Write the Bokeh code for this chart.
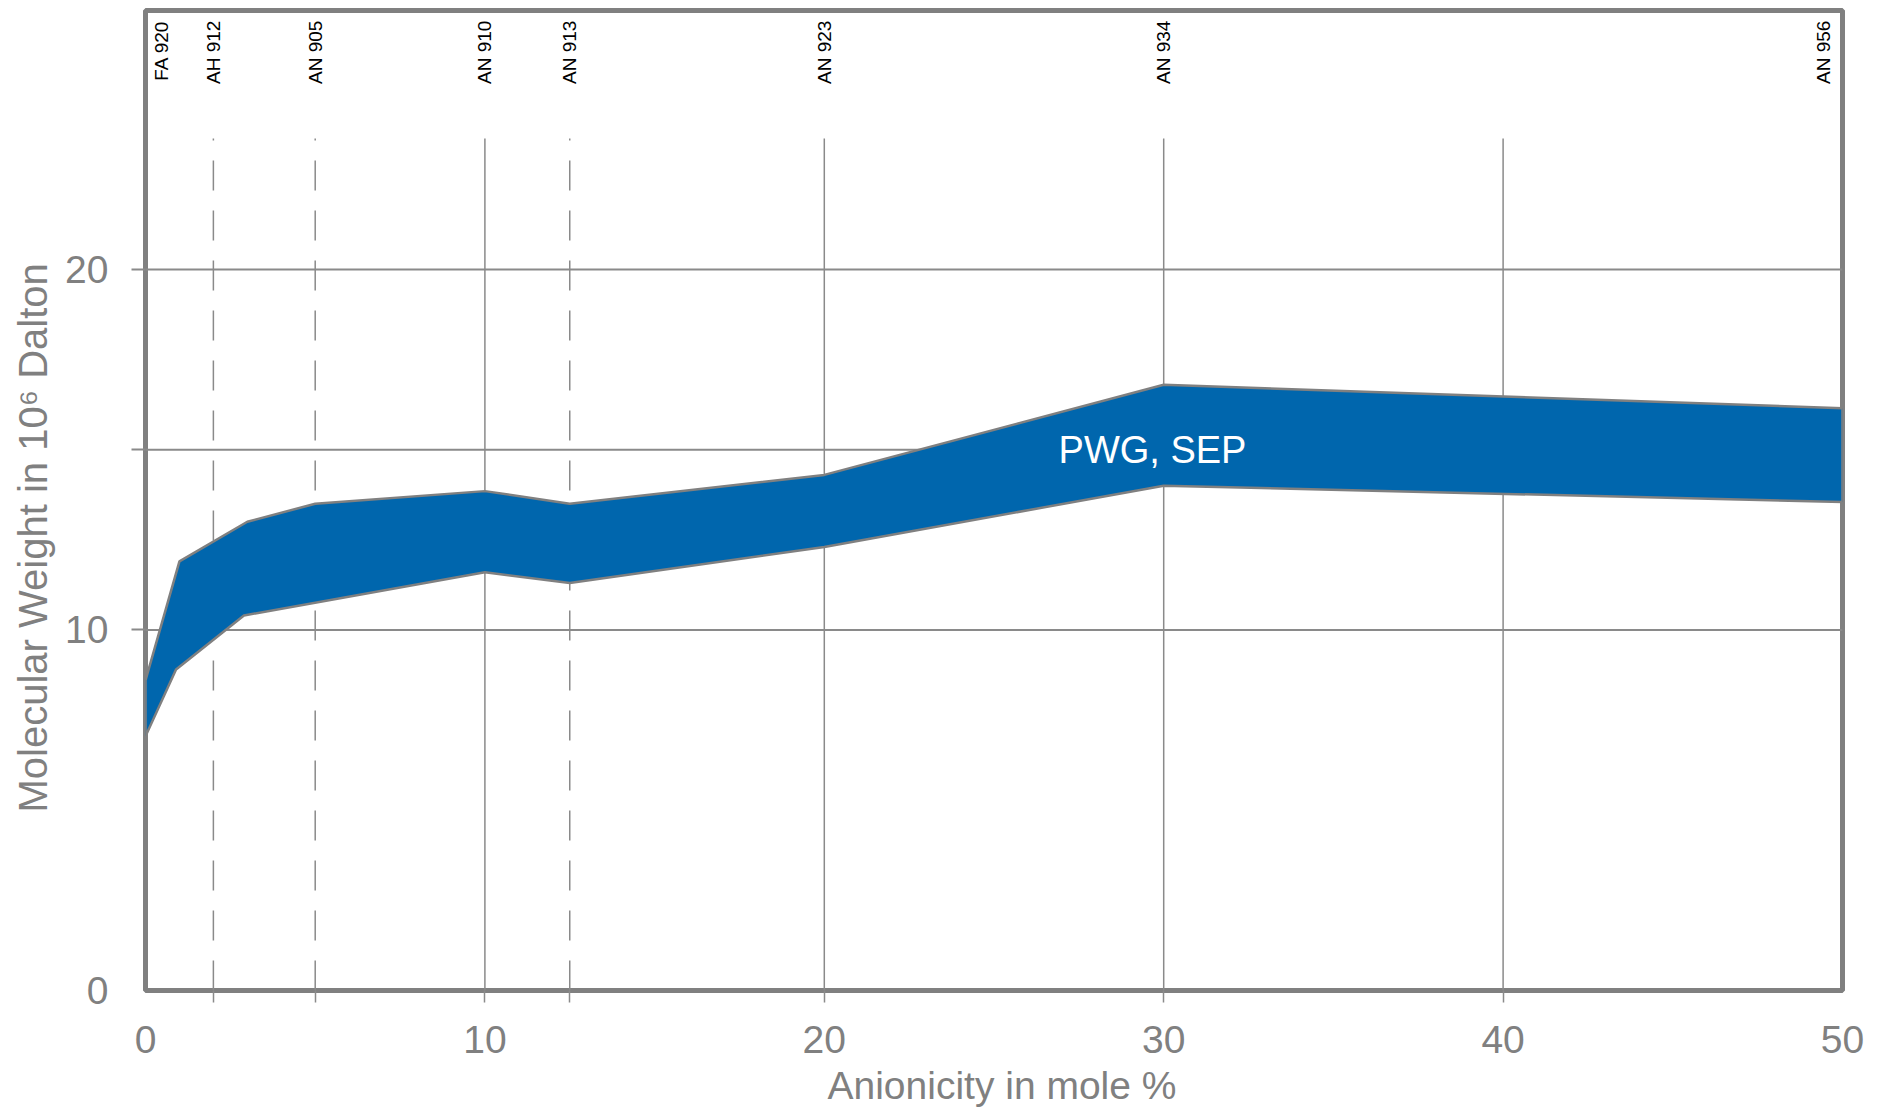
import numpy as np
from bokeh.plotting import figure
from bokeh.models import Range1d, FixedTicker, Title, ColumnDataSource
from bokeh.core.properties import value
from bokeh.embed import file_html
from bokeh.resources import INLINE

# ---- data ----
upper_x = [0, 1, 3, 5, 10, 12.5, 20, 30, 50]
upper_y = [8.6, 11.9, 13.0, 13.5, 13.85, 13.5, 14.3, 16.8, 16.15]
lower_x = [0, 0.9, 2.9, 10, 12.5, 20, 30, 50]
lower_y = [7.05, 8.9, 10.4, 11.6, 11.3, 12.3, 14.0, 13.55]

product_names = ["FA 920", "AH 912", "AN 905", "AN 910", "AN 913", "AN 923", "AN 934", "AN 956"]
product_label_x = [0.46, 2, 5, 10, 12.5, 20, 30, 49.45]

solid_lines_x = [10, 20, 30, 40]
dashed_lines_x = [2, 5, 12.5]
hgrid_y = [10, 15, 20]

x_ticks = [0, 10, 20, 30, 40, 50]
y_ticks = [0, 10, 20]

band_label = "PWG, SEP"
band_label_pos = (29.67, 15.0)

x_title = "Anionicity in mole %"
y_title = "Molecular Weight in 10\u2076 Dalton"

GRAY = "#808080"
FONT = "Liberation Sans"

p = figure(width=1881, height=1114, output_backend="svg", toolbar_location=None,
           x_range=Range1d(0, 50), y_range=Range1d(0, 27.18),
           min_border_left=145, min_border_right=39, min_border_top=10, min_border_bottom=124)
p.background_fill_color = "white"
p.border_fill_color = "white"
p.outline_line_color = GRAY
p.outline_line_width = 5
p.grid.visible = False

# axes
for ax in (p.xaxis[0], p.yaxis[0]):
    ax.axis_line_color = None
    ax.major_tick_line_color = None
    ax.major_tick_out = 0
    ax.major_tick_in = 0
    ax.minor_tick_in = 0
    ax.minor_tick_line_color = "#8a8a8a"
    ax.minor_tick_line_width = 1.5
    ax.major_label_text_font = FONT
    ax.major_label_text_font_size = "39px"
    ax.major_label_text_color = GRAY

p.xaxis[0].ticker = FixedTicker(ticks=x_ticks, minor_ticks=dashed_lines_x + solid_lines_x)
p.xaxis[0].minor_tick_out = 12
p.xaxis[0].major_label_standoff = 23
p.yaxis[0].ticker = FixedTicker(ticks=y_ticks, minor_ticks=hgrid_y)
p.yaxis[0].minor_tick_out = 14
p.yaxis[0].minor_tick_line_width = 2
p.yaxis[0].major_label_standoff = 23

# axis titles (as titles so they can be offset like the reference)
p.add_layout(Title(text=x_title, align="left", offset=682, standoff=13,
                   text_font=FONT, text_font_size="39px", text_font_style="normal",
                   text_color=GRAY), "below")
p.add_layout(Title(text=y_title, align="left", offset=178, standoff=16,
                   text_font=FONT, text_font_size="40px", text_font_style="normal",
                   text_color=GRAY), "left")

# gridlines
grid_top = 23.63
p.segment(x0=[0] * len(hgrid_y), y0=hgrid_y, x1=[50] * len(hgrid_y), y1=hgrid_y,
          line_color="#8a8a8a", line_width=2)
p.segment(x0=solid_lines_x, y0=[0] * len(solid_lines_x), x1=solid_lines_x,
          y1=[grid_top] * len(solid_lines_x), line_color="#8a8a8a", line_width=1.5)
p.segment(x0=dashed_lines_x, y0=[0] * len(dashed_lines_x), x1=dashed_lines_x,
          y1=[grid_top] * len(dashed_lines_x), line_color="#8a8a8a", line_width=1.5,
          line_dash="30 20")

# band
band_x = upper_x + lower_x[::-1]
band_y = upper_y + lower_y[::-1]
p.patch(band_x, band_y, fill_color="#0066AD", line_color=GRAY, line_width=2.5)

# band label
p.text(x=[band_label_pos[0]], y=[band_label_pos[1]], text=[band_label],
       text_color="white", text_font=value(FONT), text_font_size="38px",
       text_align="center", text_baseline="middle")

# product labels at top
src = ColumnDataSource(dict(x=product_label_x, y=[26.9] * len(product_names), t=product_names))
p.text(x="x", y="y", text="t", source=src, angle=np.pi / 2, text_align="right",
       text_baseline="middle", text_color="black", text_font=value(FONT), text_font_size="19px")

open("out.html", "w").write(file_html(p, INLINE))
